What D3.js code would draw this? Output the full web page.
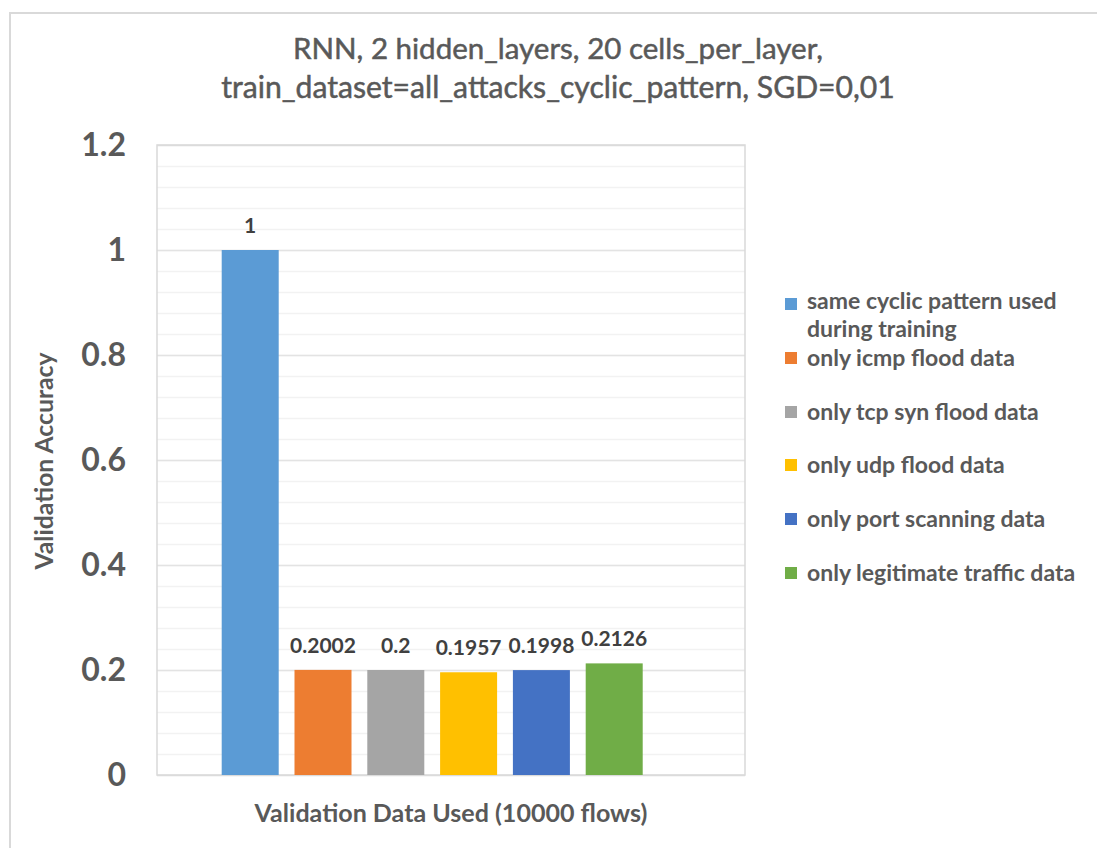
<!DOCTYPE html>
<html>
<head>
<meta charset="utf-8">
<script src="https://cdn.jsdelivr.net/npm/d3@7"></script>
<style>
  html, body { margin: 0; padding: 0; background: #fff; }
  svg { display: block; font-family: Lato, "Open Sans", sans-serif; }
</style>
</head>
<body>
<svg id="chart" width="1097" height="848"></svg>
<script>
// Validation accuracy per validation set (one bar per series)
const series = [
  "same cyclic pattern used during training",
  "only icmp flood data",
  "only tcp syn flood data",
  "only udp flood data",
  "only port scanning data",
  "only legitimate traffic data"
];
const values = [1, 0.2002, 0.2, 0.1957, 0.1998, 0.2126];
const valueLabels = ["1", "0.2002", "0.2", "0.1957", "0.1998", "0.2126"];
const colors = ["#5b9bd5", "#ed7d31", "#a5a5a5", "#ffc000", "#4472c4", "#70ad47"];
const legendLines = [
  ["same cyclic pattern used", "during training"],
  ["only icmp flood data"],
  ["only tcp syn flood data"],
  ["only udp flood data"],
  ["only port scanning data"],
  ["only legitimate traffic data"]
];
const yTicks = [0, 0.2, 0.4, 0.6, 0.8, 1, 1.2];
const yTickLabels = ["0", "0.2", "0.4", "0.6", "0.8", "1", "1.2"];
const titleLines = [
  "RNN, 2 hidden_layers, 20 cells_per_layer,",
  "train_dataset=all_attacks_cyclic_pattern, SGD=0,01"
];
const xTitle = "Validation Data Used (10000 flows)";
const yTitle = "Validation Accuracy";

const svg = d3.select("#chart");

// set a text's font size so that it spans the given width
function fitWidth(sel, width) {
  const node = sel.node();
  const fs = parseFloat(sel.attr("font-size"));
  const w = node.getComputedTextLength();
  sel.attr("font-size", (fs * width / w).toFixed(2));
}

// chart frame
svg.append("rect")
  .attr("x", 10).attr("y", 13).attr("width", 1097).attr("height", 848)
  .attr("fill", "#fff").attr("stroke", "#d9d9d9").attr("stroke-width", 2);

const plot = { left: 157, right: 745, top: 145, bottom: 775 };

const y = d3.scaleLinear().domain([0, 1.2]).range([plot.bottom, plot.top]);
const x = d3.scaleBand().domain(series).range([213.8, 650.6])
  .paddingInner(0.217).paddingOuter(0.1085);

// minor gridlines
const minor = d3.range(0, 1.2001, 0.04);
svg.append("g").selectAll("line").data(minor).join("line")
  .attr("x1", plot.left).attr("x2", plot.right)
  .attr("y1", d => Math.round(y(d)) + 0.5).attr("y2", d => Math.round(y(d)) + 0.5)
  .attr("stroke", "#f2f2f2").attr("stroke-width", 1.5);

// major gridlines
svg.append("g").selectAll("line").data(yTicks).join("line")
  .attr("x1", plot.left).attr("x2", plot.right)
  .attr("y1", d => Math.round(y(d)) + 0.5).attr("y2", d => Math.round(y(d)) + 0.5)
  .attr("stroke", "#e3e3e3").attr("stroke-width", 1.5);

// plot area border
svg.append("rect")
  .attr("x", plot.left).attr("y", plot.top)
  .attr("width", plot.right - plot.left).attr("height", plot.bottom - plot.top)
  .attr("fill", "none").attr("stroke", "#d9d9d9").attr("stroke-width", 1.5);

// bars
svg.append("g").selectAll("rect").data(series).join("rect")
  .attr("x", d => x(d)).attr("width", x.bandwidth())
  .attr("y", (d, i) => y(values[i]))
  .attr("height", (d, i) => y(0) - y(values[i]))
  .attr("fill", (d, i) => colors[i]);

// value labels
svg.append("g").selectAll("text").data(series).join("text")
  .attr("x", d => x(d) + x.bandwidth() / 2)
  .attr("y", (d, i) => y(values[i]) - 17)
  .attr("text-anchor", "middle")
  .attr("font-size", 21).attr("font-weight", 700).attr("fill", "#404040")
  .text((d, i) => valueLabels[i]);

// y axis tick labels
const yAxis = d3.axisLeft(y).tickValues(yTicks).tickSize(0).tickPadding(0)
  .tickFormat((d, i) => yTickLabels[i]);
const ya = svg.append("g").attr("transform", `translate(126,0)`).call(yAxis);
ya.select(".domain").remove();
ya.selectAll("text")
  .attr("font-family", "Lato, sans-serif")
  .attr("font-size", 32).attr("font-weight", 700).attr("fill", "#595959");

// chart title
const titleWidths = [530, 674];
svg.append("g").selectAll("text").data(titleLines).join("text")
  .attr("x", 558).attr("y", (d, i) => 59 + i * 39)
  .attr("text-anchor", "middle")
  .attr("font-size", 26).attr("font-weight", 400).attr("fill", "#595959")
  .attr("stroke", "#595959").attr("stroke-width", 0.5)
  .text(d => d)
  .each(function (d, i) { fitWidth(d3.select(this), titleWidths[i]); });

// axis titles
const xt = svg.append("text")
  .attr("x", 451).attr("y", 822)
  .attr("text-anchor", "middle")
  .attr("font-size", 24).attr("font-weight", 700).attr("fill", "#595959")
  .text(xTitle);
fitWidth(xt, 393);

const yt = svg.append("text")
  .attr("transform", "translate(53,461) rotate(-90)")
  .attr("text-anchor", "middle")
  .attr("font-size", 24).attr("font-weight", 700).attr("fill", "#595959")
  .text(yTitle);
fitWidth(yt, 217);

// legend
const legendY = [304, 358, 412, 465, 519, 573];
const legendSize = 23;
const lg = svg.append("g");
series.forEach((s, i) => {
  lg.append("rect")
    .attr("x", 785).attr("y", legendY[i] - 6).attr("width", 12).attr("height", 12)
    .attr("fill", colors[i]);
  const lines = legendLines[i];
  // wrapped entries sit a little higher to leave room for their second line
  const base = legendY[i] + (lines.length > 1 ? 5 : 8);
  lines.forEach((line, j) => {
    lg.append("text")
      .attr("x", 807).attr("y", base + j * 27.5)
      .attr("font-size", legendSize).attr("font-weight", 700).attr("fill", "#595959")
      .text(line);
  });
});
</script>
</body>
</html>
